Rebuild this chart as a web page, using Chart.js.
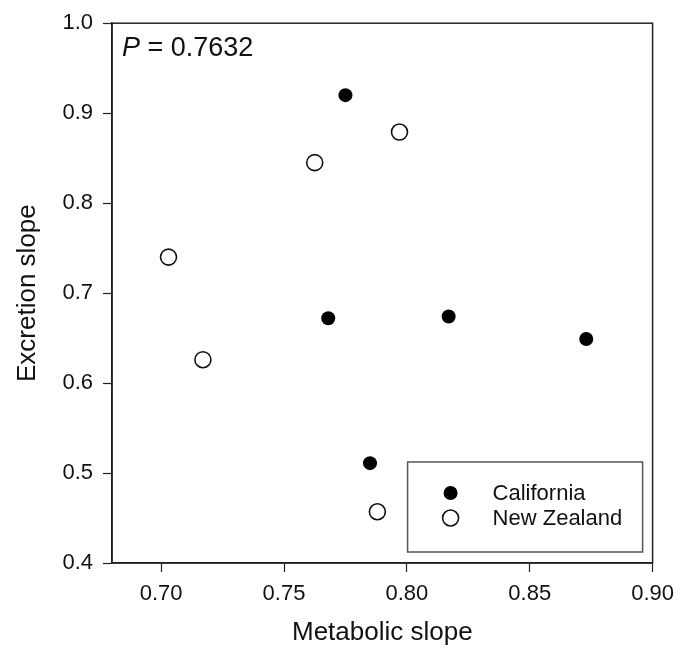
<!DOCTYPE html>
<html>
<head>
<meta charset="utf-8">
<script src="https://cdn.jsdelivr.net/npm/chart.js@4"></script>
<style>
  body { margin: 0; background: #fff; }
  #wrap { width: 683px; height: 662px; }
</style>
</head>
<body>
<div id="wrap"><canvas id="scatter"></canvas></div>
<script>
// data
const californiaX = [0.775, 0.768, 0.817, 0.873, 0.785];
const californiaY = [0.920, 0.672, 0.674, 0.649, 0.511];
const newZealandX = [0.797, 0.7625, 0.703, 0.717, 0.788];
const newZealandY = [0.879, 0.845, 0.740, 0.626, 0.457];
const xTicks = [0.70, 0.75, 0.80, 0.85, 0.90];
const yTicks = [0.4, 0.5, 0.6, 0.7, 0.8, 0.9, 1.0];
const pText = '0.7632';

const FONT = 'Arial, "Liberation Sans", sans-serif';
const INK = '#111';

function toPoints(xs, ys) {
    return xs.map((x, i) => ({ x: x, y: ys[i] }));
}

// box around the plot area
const frame = {
    id: 'frame',
    afterDraw(chart) {
        const a = chart.chartArea;
        const ctx = chart.ctx;
        ctx.save();
        ctx.strokeStyle = '#222';
        ctx.lineWidth = 1.5;
        ctx.strokeRect(a.left, a.top, a.right - a.left, a.bottom - a.top);
        ctx.restore();
    }
};

// P value label, top left inside plot
const pLabel = {
    id: 'pLabel',
    afterDraw(chart) {
        const a = chart.chartArea;
        const ctx = chart.ctx;
        ctx.save();
        ctx.fillStyle = INK;
        ctx.textBaseline = 'middle';
        ctx.font = 'italic 27px ' + FONT;
        ctx.fillText('P', a.left + 10, a.top + 25);
        const w = ctx.measureText('P').width;
        ctx.font = '27px ' + FONT;
        ctx.fillText(' = ' + pText, a.left + 10 + w, a.top + 25);
        ctx.restore();
    }
};

// boxed legend in the lower right corner
const boxLegend = {
    id: 'boxLegend',
    afterDraw(chart) {
        const a = chart.chartArea;
        const ctx = chart.ctx;
        const w = 235, h = 90;
        const x0 = a.right - 10 - w;
        const y0 = a.bottom - 11 - h;
        ctx.save();
        ctx.strokeStyle = '#555';
        ctx.lineWidth = 1.5;
        ctx.strokeRect(x0, y0, w, h);
        ctx.font = '22px ' + FONT;
        ctx.textBaseline = 'middle';
        chart.data.datasets.forEach((ds, i) => {
            const cy = y0 + 31 + i * 25;
            const cx = x0 + 43;
            ctx.beginPath();
            ctx.arc(cx, cy, ds.pointRadius, 0, Math.PI * 2);
            ctx.fillStyle = ds.pointBackgroundColor;
            ctx.fill();
            if (ds.pointBorderWidth > 0) {
                ctx.lineWidth = ds.pointBorderWidth;
                ctx.strokeStyle = ds.pointBorderColor;
                ctx.stroke();
            }
            ctx.fillStyle = INK;
            ctx.fillText(ds.label, x0 + 85, cy + 1);
        });
        ctx.restore();
    }
};

new Chart(document.getElementById('scatter'), {
    type: 'scatter',
    data: {
        datasets: [{
            label: 'California',
            data: toPoints(californiaX, californiaY),
            pointRadius: 7,
            pointBackgroundColor: '#000',
            pointBorderColor: '#000',
            pointBorderWidth: 0
        }, {
            label: 'New Zealand',
            data: toPoints(newZealandX, newZealandY),
            pointRadius: 8,
            pointBackgroundColor: '#fff',
            pointBorderColor: '#111',
            pointBorderWidth: 1.6
        }]
    },
    options: {
        responsive: true,
        maintainAspectRatio: false,
        animation: false,
        layout: {
            padding: { top: 19, right: 24, left: 0, bottom: 0 }
        },
        plugins: {
            legend: { display: false },
            tooltip: { enabled: false }
        },
        scales: {
            x: {
                type: 'linear',
                min: 0.68,
                max: 0.90,
                afterBuildTicks: s => { s.ticks = xTicks.map(v => ({ value: v })); },
                afterFit: s => { s.height = 99; },
                ticks: {
                    color: INK,
                    font: { family: FONT, size: 22 },
                    padding: 9,
                    callback: v => v.toFixed(2)
                },
                grid: {
                    drawOnChartArea: false,
                    drawTicks: true,
                    tickLength: 9,
                    tickColor: '#222',
                    tickWidth: 1.2
                },
                border: { display: true, color: '#222', width: 1.5 },
                title: {
                    display: true,
                    text: 'Metabolic slope',
                    color: INK,
                    font: { family: FONT, size: 26 },
                    padding: { top: 14, bottom: 14 }
                }
            },
            y: {
                type: 'linear',
                min: 0.4,
                max: 1.0,
                afterBuildTicks: s => { s.ticks = yTicks.map(v => ({ value: v })); },
                afterFit: s => { s.width = 112; },
                ticks: {
                    color: INK,
                    font: { family: FONT, size: 22 },
                    padding: 10,
                    callback: v => v.toFixed(1)
                },
                grid: {
                    drawOnChartArea: false,
                    drawTicks: true,
                    tickLength: 9,
                    tickColor: '#222',
                    tickWidth: 1.2
                },
                border: { display: true, color: '#222', width: 1.5 },
                title: {
                    display: true,
                    text: 'Excretion slope',
                    color: INK,
                    font: { family: FONT, size: 26 },
                    padding: { top: 12, bottom: 12 }
                }
            }
        }
    },
    plugins: [frame, pLabel, boxLegend]
});
</script>
</body>
</html>
